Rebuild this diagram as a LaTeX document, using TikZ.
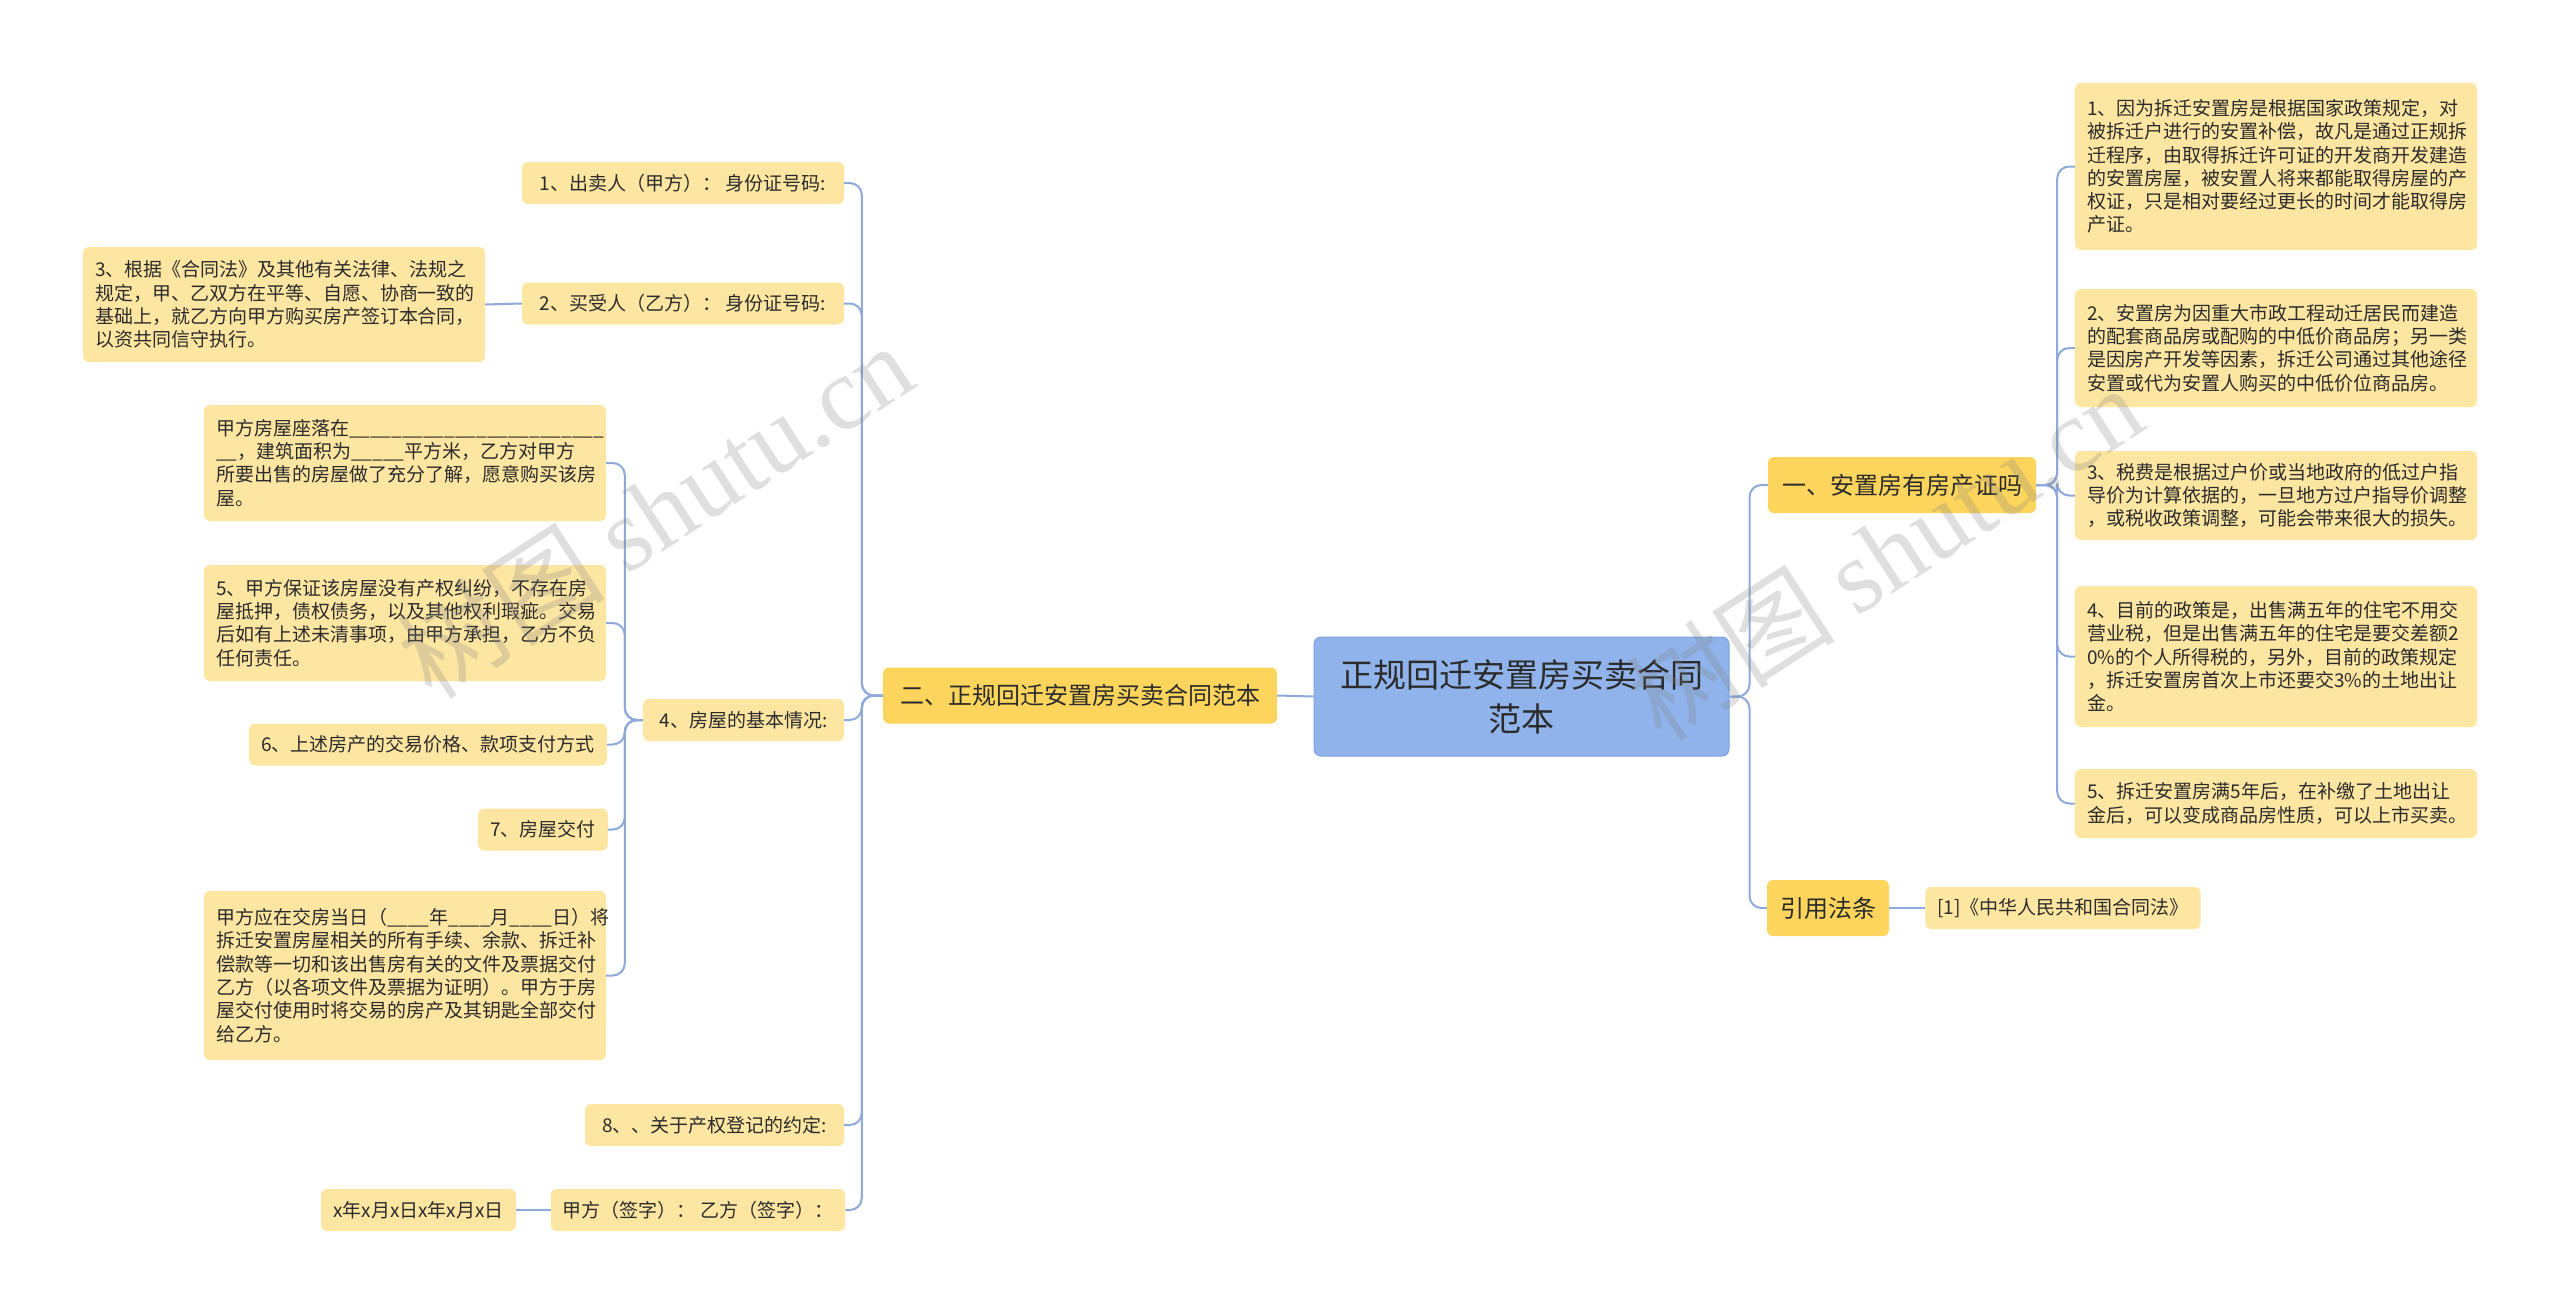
\documentclass[tikz,border=0pt]{standalone}
\usepackage{fontspec}
\setmainfont{Noto Sans CJK SC}
\newfontfamily\wmserif{Liberation Serif}
\definecolor{leafc}{HTML}{FDE6A2}
\definecolor{branchc}{HTML}{FDD55C}
\definecolor{rootc}{HTML}{8FB3EA}
\definecolor{rootd}{HTML}{7FA2DE}
\definecolor{linec}{HTML}{8EAADB}
\definecolor{txt}{HTML}{2B2B2B}
\begin{document}
\begin{tikzpicture}[x=1pt,y=-1pt,
  leaf/.style={fill=leafc, rounded corners=6pt, text=txt, inner xsep=12pt, inner ysep=4pt,
    font=\fontsize{19}{23.3}\selectfont, minimum height=42pt},
  para/.style={leaf, align=left, text width=378pt},
  branch/.style={fill=branchc, rounded corners=6pt, text=txt, inner xsep=12pt,
    font=\fontsize{24}{28}\selectfont, minimum height=56pt},
  rootbox/.style={fill=rootc, draw=rootd, line width=1pt, rounded corners=7pt, text=txt,
    align=center, font=\fontsize{33}{44}\selectfont},
  conn/.style={draw=linec, line width=2pt, rounded corners=12pt},
  wm/.style={rotate=33, text=gray, opacity=0.25, font=\fontsize{104}{104}\selectfont}
]
\useasboundingbox (0,0) rectangle (2560,1314);
\fill[white] (0,0) rectangle (2560,1314);

% root
\node[rootbox, minimum width=415pt, minimum height=119pt] (root) at (1521.5,696.5)
  {正规回迁安置房买卖合同\\范本};

% right side
\node[branch, minimum width=268pt] (b1) at (1902,485) {一、安置房有房产证吗};
\node[branch, minimum width=122pt] (b2) at (1828,908) {引用法条};

\node[para, minimum height=167pt] (r1) at (2276,166.5) {1、因为拆迁安置房是根据国家政策规定，对\\被拆迁户进行的安置补偿，故凡是通过正规拆\\迁程序，由取得拆迁许可证的开发商开发建造\\的安置房屋，被安置人将来都能取得房屋的产\\权证，只是相对要经过更长的时间才能取得房\\产证。};
\node[para, minimum height=118pt] (r2) at (2276,348) {2、安置房为因重大市政工程动迁居民而建造\\的配套商品房或配购的中低价商品房；另一类\\是因房产开发等因素，拆迁公司通过其他途径\\安置或代为安置人购买的中低价位商品房。};
\node[para, minimum height=89pt] (r3) at (2276,495.5) {3、税费是根据过户价或当地政府的低过户指\\导价为计算依据的，一旦地方过户指导价调整\\，或税收政策调整，可能会带来很大的损失。};
\node[para, minimum height=141pt] (r4) at (2276,656.5) {4、目前的政策是，出售满五年的住宅不用交\\营业税，但是出售满五年的住宅是要交差额2\\0\%的个人所得税的，另外，目前的政策规定\\，拆迁安置房首次上市还要交3\%的土地出让\\金。};
\node[para, minimum height=69pt] (r5) at (2276,803.5) {5、拆迁安置房满5年后，在补缴了土地出让\\金后，可以变成商品房性质，可以上市买卖。};
\node[leaf, minimum width=272pt] (ref) at (2063,908) {[1]《中华人民共和国合同法》};

% left side
\node[branch, minimum width=394pt] (lb) at (1080,695.5) {二、正规回迁安置房买卖合同范本};

\node[leaf, minimum width=322pt] (l1) at (683,183) {1、出卖人（甲方）： 身份证号码:};
\node[leaf, minimum width=322pt] (l2) at (683,303.5) {2、买受人（乙方）： 身份证号码:};
\node[leaf, minimum width=201pt] (l4) at (743.5,720) {4、房屋的基本情况:};
\node[leaf, minimum width=259pt] (l8) at (714.5,1125) {8、、关于产权登记的约定:};
\node[leaf, minimum width=292pt] (ls) at (698,1210) {甲方（签字）： 乙方（签字）：};

\node[para, minimum height=115pt] (l3) at (284,304.5) {3、根据《合同法》及其他有关法律、法规之\\规定，甲、乙双方在平等、自愿、协商一致的\\基础上，就乙方向甲方购买房产签订本合同，\\以资共同信守执行。};
\node[para, minimum height=116pt] (ka) at (405,463) {甲方房屋座落在\_\_\_\_\_\_\_\_\_\_\_\_\_\_\_\_\_\_\_\_\_\_\_\_\\\_\_，建筑面积为\_\_\_\_\_平方米，乙方对甲方\\所要出售的房屋做了充分了解，愿意购买该房\\屋。};
\node[para, minimum height=116pt] (kb) at (405,623) {5、甲方保证该房屋没有产权纠纷，不存在房\\屋抵押，债权债务，以及其他权利瑕疵。交易\\后如有上述未清事项，由甲方承担，乙方不负\\任何责任。};
\node[leaf, minimum width=356pt] (kc) at (428,744.5) {6、上述房产的交易价格、款项支付方式};
\node[leaf, minimum width=126pt] (kd) at (543,829.5) {7、房屋交付};
\node[para, minimum height=169pt] (ke) at (405,975.5) {甲方应在交房当日（\_\_\_\_年\_\_\_\_月\_\_\_\_日）将\\拆迁安置房屋相关的所有手续、余款、拆迁补\\偿款等一切和该出售房有关的文件及票据交付\\乙方（以各项文件及票据为证明）。甲方于房\\屋交付使用时将交易的房产及其钥匙全部交付\\给乙方。};
\node[leaf, minimum width=191pt] (kf) at (418.5,1210) {x年x月x日x年x月x日};

% connectors right
\draw[conn] (root.east) -- ++(20,0) |- (b1.west);
\draw[conn] (root.east) -- ++(20,0) |- (b2.west);
\foreach \c in {r1,r2,r3,r4,r5}
  \draw[conn] (b1.east) -- ++(21,0) |- (\c.west);
\draw[conn] (b2.east) -- (ref.west);

% connectors left
\draw[conn] (root.west) -- (lb.east);
\foreach \c in {l1,l2,l4,l8,ls}
  \draw[conn] (lb.west) -- ++(-21,0) |- (\c.east);
\draw[conn] (l2.west) -- (l3.east);
\foreach \c in {ka,kb,kc,kd,ke}
  \draw[conn] (l4.west) -- ++(-18,0) |- (\c.east);
\draw[conn] (ls.west) -- (kf.east);

% watermarks
\node[wm] (wm1) at (655,510) {树图 {\wmserif shutu.cn}};
\node[wm] (wm2) at (1885,552) {树图 {\wmserif shutu.cn}};
\end{tikzpicture}
\end{document}
